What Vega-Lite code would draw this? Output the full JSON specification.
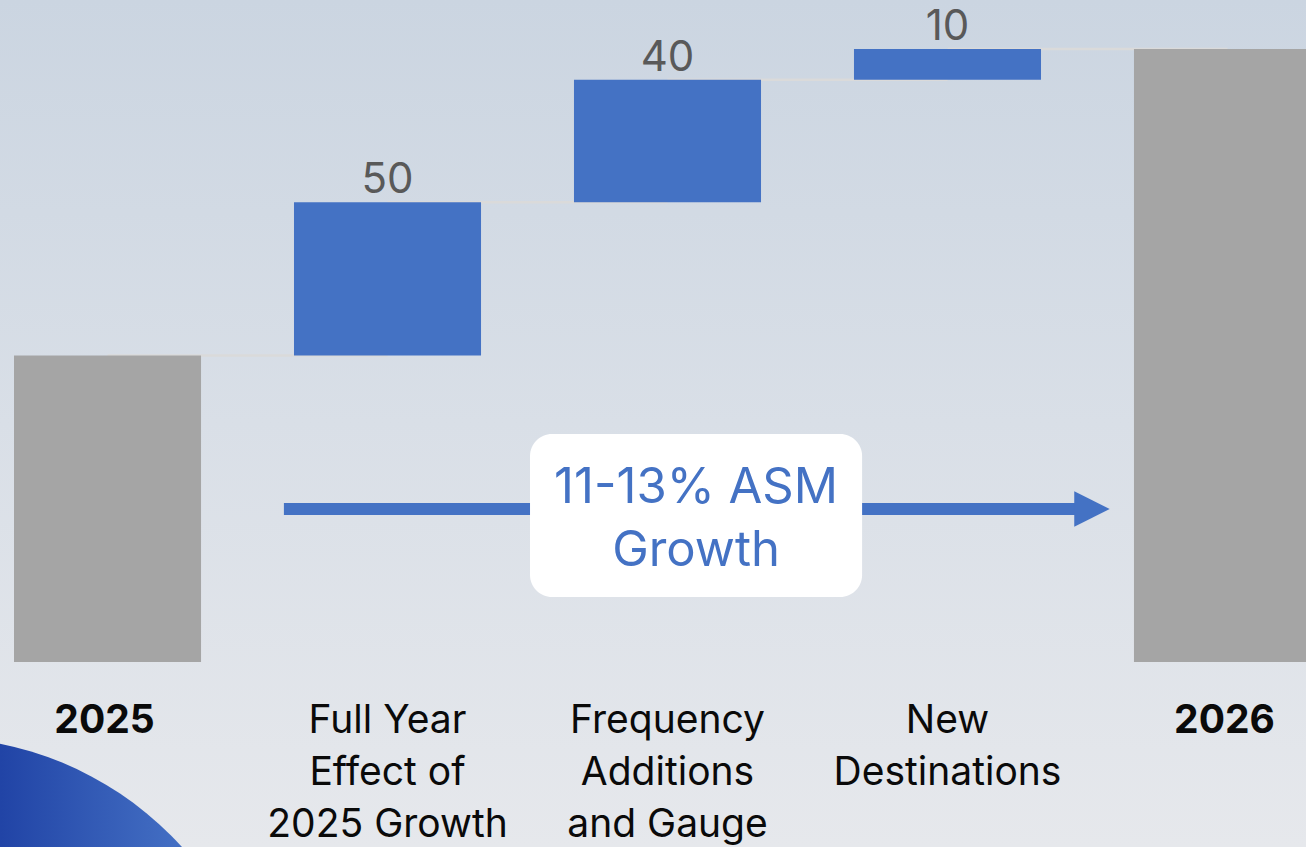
{
  "$schema": "https://vega.github.io/schema/vega-lite/v6.json",
  "width": 1306,
  "height": 847,
  "autosize": {"type": "none"},
  "padding": 0,
  "background": "#e5e8ec",
  "config": {
    "view": {
      "stroke": null,
      "fill": {"gradient": "linear", "x1": 0, "y1": 0, "x2": 0, "y2": 1,
        "stops": [{"offset": 0, "color": "#cbd5e1"}, {"offset": 0.5, "color": "#d9dfe7"}, {"offset": 1, "color": "#e6e8ec"}]}
    },
    "text": {"font": "Inter"}
  },
  "datasets": {
    "steps": [
      {"label": "2025", "text": "2025", "start": 0, "end": 100, "kind": "total", "next": "Full Year"},
      {"label": "Full Year", "text": "Full Year\nEffect of\n2025 Growth", "start": 100, "end": 150, "kind": "delta", "value": 50, "next": "Frequency"},
      {"label": "Frequency", "text": "Frequency\nAdditions\nand Gauge", "start": 150, "end": 190, "kind": "delta", "value": 40, "next": "New Destinations"},
      {"label": "New Destinations", "text": "New\nDestinations", "start": 190, "end": 200, "kind": "delta", "value": 10, "next": "2026"},
      {"label": "2026", "text": "2026", "start": 0, "end": 200, "kind": "total"}
    ]
  },
  "layer": [
    {
      "data": {"name": "steps"},
      "encoding": {
        "x": {"field": "label", "type": "nominal", "axis": null,
          "scale": {"domain": ["2025", "Full Year", "Frequency", "New Destinations", "2026"], "range": [14, 1321], "paddingInner": 0.332, "paddingOuter": 0}}
      },
      "layer": [
        {
          "transform": [{"filter": "datum.next != null"}],
          "mark": {"type": "rule", "color": "#dadada", "strokeWidth": 2.5},
          "encoding": {
            "x2": {"field": "next"},
            "y": {"field": "end", "type": "quantitative", "axis": null, "scale": {"domain": [0, 200], "range": [662, 49]}}
          }
        },
        {
          "mark": {"type": "bar"},
          "encoding": {
            "y": {"field": "start", "type": "quantitative"},
            "y2": {"field": "end"},
            "color": {"field": "kind", "type": "nominal", "legend": null,
              "scale": {"domain": ["total", "delta"], "range": ["#a5a5a5", "#4472c4"]}}
          }
        },
        {
          "transform": [{"filter": "datum.kind == 'delta'"}],
          "mark": {"type": "text", "fontSize": 42, "color": "#595959", "baseline": "alphabetic", "dy": -9},
          "encoding": {
            "y": {"field": "end", "type": "quantitative"},
            "text": {"field": "value"}
          }
        },
        {
          "transform": [{"filter": "datum.kind == 'delta'"}],
          "mark": {"type": "text", "fontSize": 39, "color": "#0a0a0a", "baseline": "alphabetic", "lineBreak": "\n", "lineHeight": 52},
          "encoding": {
            "y": {"datum": -23.2, "type": "quantitative"},
            "text": {"field": "text"}
          }
        },
        {
          "transform": [{"filter": "datum.kind == 'total'"}],
          "mark": {"type": "text", "fontSize": 39, "fontWeight": "bold", "color": "#0a0a0a", "baseline": "alphabetic", "dx": -3},
          "encoding": {
            "y": {"datum": -23.2, "type": "quantitative"},
            "text": {"field": "text"}
          }
        }
      ]
    },
    {
      "data": {"values": [{}]},
      "layer": [
        {
          "mark": {"type": "point", "shape": "circle", "filled": true, "opacity": 1, "strokeWidth": 0,
            "fill": {"gradient": "linear", "x1": 0, "y1": 0, "x2": 1, "y2": 0,
              "stops": [{"offset": 0.6, "color": "#2144a6"}, {"offset": 0.88, "color": "#4571c5"}]}},
          "encoding": {
            "x": {"datum": -0.62, "type": "quantitative", "axis": null, "scale": {"domain": [0, 4], "range": [107.5, 1227.5]}},
            "y": {"datum": -133.8, "type": "quantitative"},
            "size": {"value": 448900}
          }
        },
        {
          "mark": {"type": "rule", "color": "#4472c4", "strokeWidth": 12, "strokeCap": "butt"},
          "encoding": {
            "x": {"datum": 0.63, "type": "quantitative"},
            "x2": {"datum": 3.46},
            "y": {"datum": 49.9, "type": "quantitative"}
          }
        },
        {
          "mark": {"type": "point", "shape": "M -1 -1 L 1 0 L -1 1 Z", "filled": true, "color": "#4472c4", "opacity": 1, "strokeWidth": 0},
          "encoding": {
            "x": {"datum": 3.516, "type": "quantitative"},
            "y": {"datum": 49.9, "type": "quantitative"},
            "size": {"value": 1253}
          }
        },
        {
          "mark": {"type": "rect", "color": "#ffffff", "cornerRadius": 22},
          "encoding": {
            "x": {"datum": 1.509, "type": "quantitative"},
            "x2": {"datum": 2.695},
            "y": {"datum": 74.4, "type": "quantitative"},
            "y2": {"datum": 21.2}
          }
        },
        {
          "mark": {"type": "text", "fontSize": 49, "color": "#4472c4", "baseline": "alphabetic", "lineBreak": "\n", "lineHeight": 63},
          "encoding": {
            "x": {"datum": 2.102, "type": "quantitative"},
            "y": {"datum": 51.9, "type": "quantitative"},
            "text": {"value": "11-13% ASM\nGrowth"}
          }
        }
      ]
    }
  ],
  "resolve": {"scale": {"x": "independent"}}
}
